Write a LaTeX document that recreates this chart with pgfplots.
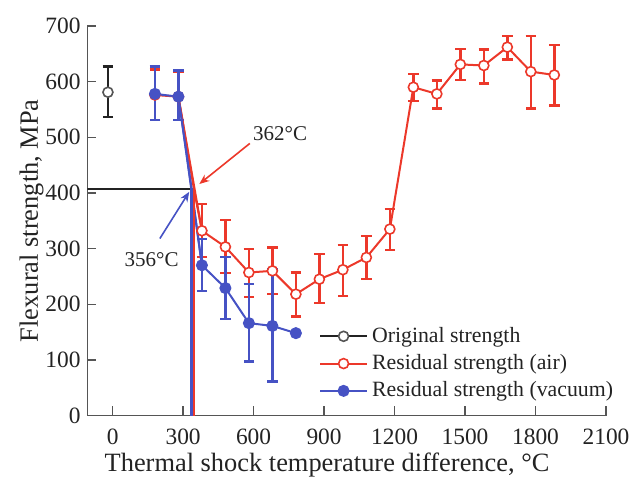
\documentclass[border=0pt]{standalone}
\usepackage{fontspec}
\setmainfont{Liberation Serif}
\usepackage{pgfplots}
\pgfplotsset{compat=1.18}
\usetikzlibrary{arrows.meta}
\definecolor{cred}{RGB}{236,56,42}
\definecolor{cblue}{RGB}{70,82,196}
\definecolor{axgray}{RGB}{85,85,85}
\definecolor{txt}{RGB}{35,35,35}
\begin{document}
\begin{tikzpicture}
\path[use as bounding box] (-43.75bp,-30.75bp) rectangle (273.25bp,207.75bp);
\begin{axis}[
  scale only axis, width=259.25bp, height=194.75bp,
  xmin=-107, xmax=2100, ymin=0, ymax=700,
  axis lines*=left,
  axis line style={axgray, line width=0.8bp},
  xtick={0,300,...,2100}, ytick={0,100,...,700},
  tick align=inside,
  major tick length=4.5bp,
  tick style={axgray, line width=0.7bp},
  /pgf/number format/assume math mode=true,
  /pgf/number format/set thousands separator={},
  ticklabel style={font=\fontsize{11.7bp}{13bp}\selectfont, text=txt},
  xticklabel style={yshift=-3bp},
  every axis x label/.style={at={(rel axis cs:0.462,0)}, yshift=-24.75bp, anchor=center},
  every axis y label/.style={at={(rel axis cs:0,0.5)}, xshift=-28bp, rotate=90, anchor=center},
  label style={font=\fontsize{13.2bp}{14bp}\selectfont, text=txt},
  xlabel={Thermal shock temperature difference, °C},
  ylabel={Flexural strength, MPa},
  legend style={draw=none, fill=none, at={(rel axis cs:0.442,0.243)}, anchor=north west,
    font=\fontsize{10.9bp}{12bp}\selectfont, text=txt, row sep=0.6bp, inner sep=1bp},
  legend cell align=left,
  legend image code/.code={\draw[mark repeat=2,mark phase=2,#1] plot coordinates {(0bp,0bp) (11.75bp,0bp) (23.5bp,0bp)};},
  error bars/error bar style={line width=1.2bp},
  error bars/error mark options={line width=1.2bp, mark size=2.6bp, rotate=90},
]
% Original strength
\addplot[color=txt, line width=1bp, mark=*, mark size=2.5bp, mark options={fill=white, draw=axgray, line width=0.8bp},
  error bars/.cd, y dir=both, y explicit]
  coordinates {(-20,581) += (0,46) -= (0,45)};
\addlegendentry{Original strength}
% Residual strength (air)
\addplot[color=cred, line width=1bp, mark=*, mark size=2.5bp, mark options={fill=white, draw=cred, line width=0.8bp},
  error bars/.cd, y dir=both, y explicit]
  coordinates {
  (180,576) += (0,46) -= (0,45)
  (280,573) += (0,45) -= (0,42)
  (380,332) += (0,48) -= (0,47)
  (480,303) += (0,48) -= (0,47)
  (580,257) += (0,42) -= (0,44)
  (680,260) += (0,42) -= (0,42)
  (780,218) += (0,39) -= (0,40)
  (880,245) += (0,45) -= (0,43)
  (980,262) += (0,44) -= (0,47)
  (1080,284) += (0,39) -= (0,39)
  (1180,335) += (0,36) -= (0,38)
  (1280,590) += (0,24) -= (0,25)
  (1380,578) += (0,24) -= (0,26)
  (1480,631) += (0,28) -= (0,28)
  (1580,629) += (0,29) -= (0,32)
  (1680,662) += (0,20) -= (0,22)
  (1780,618) += (0,64) -= (0,66)
  (1880,612) += (0,54) -= (0,55)
  };
\addlegendentry{Residual strength (air)}
% Residual strength (vacuum)
\addplot[color=cblue, line width=1bp, mark=*, mark size=2.5bp, mark options={fill=cblue, draw=cblue},
  error bars/.cd, y dir=both, y explicit]
  coordinates {
  (180,578) += (0,49) -= (0,47)
  (280,573) += (0,47) -= (0,42)
  (380,270) += (0,47) -= (0,46)
  (480,229) += (0,56) -= (0,56)
  (580,166) += (0,70) -= (0,69)
  (680,161) += (0,102) -= (0,100)
  (780,148)
  };
\addlegendentry{Residual strength (vacuum)}
% connecting lines through the critical points
\addplot[forget plot, color=cred, line width=1bp] coordinates {(280,573) (346,407) (380,332)};
\addplot[forget plot, color=cblue, line width=1bp] coordinates {(280,573) (336,408) (380,270)};
% critical temperature lines
\addplot[forget plot, color=txt, line width=1bp] coordinates {(-107,407) (343,407)};
\addplot[forget plot, color=cblue, line width=1.2bp] coordinates {(336,408) (336,0)};
\addplot[forget plot, color=cred, line width=1.2bp] coordinates {(346,407) (346,0)};
% arrows
\addplot[forget plot, color=cred, line width=0.8bp, -{Stealth[length=5bp,width=4bp]}] coordinates {(584,489) (369,416)};
\addplot[forget plot, color=cblue, line width=0.8bp, -{Stealth[length=5bp,width=4bp]}] coordinates {(201,318) (326,402)};
\node[text=txt, font=\fontsize{10.5bp}{12bp}\selectfont] at (axis cs:713,507) {362°C};
\node[text=txt, font=\fontsize{10.5bp}{12bp}\selectfont] at (axis cs:166,281) {356°C};
\end{axis}
\end{tikzpicture}
\end{document}
